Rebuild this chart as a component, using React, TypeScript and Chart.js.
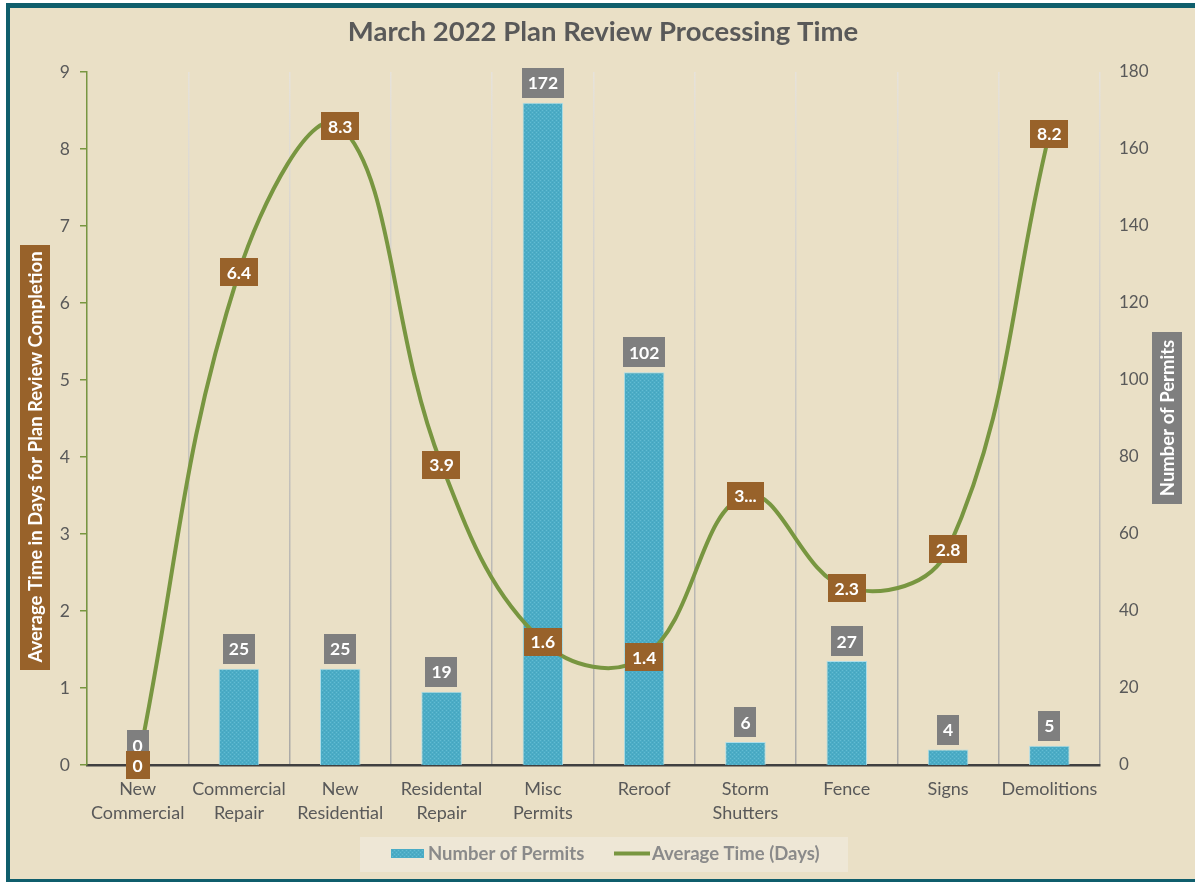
import React, { useEffect, useRef } from 'react';
import { Chart, registerables } from 'chart.js';

Chart.register(...registerables);

const chartTitle = 'March 2022 Plan Review Processing Time';
const leftAxisTitle = 'Average Time in Days for Plan Review Completion';
const rightAxisTitle = 'Number of Permits';
const categories: (string | string[])[] = [
  ['New', 'Commercial'],
  ['Commercial', 'Repair'],
  ['New', 'Residential'],
  ['Residental', 'Repair'],
  ['Misc', 'Permits'],
  'Reroof',
  ['Storm', 'Shutters'],
  'Fence',
  'Signs',
  'Demolitions',
];
const permitCounts = [0, 25, 25, 19, 172, 102, 6, 27, 4, 5];
const avgDays = [0, 6.4, 8.3, 3.9, 1.6, 1.4, 3.5, 2.3, 2.8, 8.2];
const avgDayLabels = ['0', '6.4', '8.3', '3.9', '1.6', '1.4', '3...', '2.3', '2.8', '8.2'];
const leftAxisMax = 9;
const leftAxisStep = 1;
const rightAxisMax = 180;
const rightAxisStep = 20;
const barLegend = 'Number of Permits';
const lineLegend = 'Average Time (Days)';

const FONT = 'Lato, "Open Sans", "DejaVu Sans", sans-serif';
const TEXT = '#595959';
const LINE_GREEN = '#789640';
const BROWN = '#98622A';
const GREY_BOX = '#7F7F7F';

function makeBarPattern(ctx: CanvasRenderingContext2D): CanvasPattern | string {
  const pc = document.createElement('canvas');
  pc.width = 4;
  pc.height = 4;
  const p = pc.getContext('2d');
  if (!p) return '#4BACC6';
  p.fillStyle = '#4BACC6';
  p.fillRect(0, 0, 4, 4);
  p.fillStyle = '#63BCD2';
  p.fillRect(0, 0, 1, 1);
  p.fillRect(2, 2, 1, 1);
  p.fillStyle = '#45A4BD';
  p.fillRect(2, 0, 1, 1);
  p.fillRect(0, 2, 1, 1);
  return ctx.createPattern(pc, 'repeat') || '#4BACC6';
}

function box(ctx: CanvasRenderingContext2D, cx: number, cy: number, w: number, h: number, fill: string) {
  ctx.fillStyle = fill;
  ctx.fillRect(Math.round(cx - w / 2), Math.round(cy - h / 2), Math.round(w), Math.round(h));
}

export default function App() {
  const ref = useRef<HTMLCanvasElement | null>(null);

  useEffect(() => {
    const canvas = ref.current;
    if (!canvas) return;
    const ctx0 = canvas.getContext('2d') as CanvasRenderingContext2D;
    const pattern = makeBarPattern(ctx0);

    const gridColor = (c: any) => {
      const chart = c.chart;
      const a = chart.chartArea;
      if (!a) return '#c8c4bb';
      const g = chart.ctx.createLinearGradient(0, a.top, 0, a.bottom);
      g.addColorStop(0, '#e6e2da');
      g.addColorStop(1, '#aaa9a6');
      return g;
    };

    const decor = {
      id: 'decor',
      afterDatasetsDraw(chart: any) {
        const ctx = chart.ctx as CanvasRenderingContext2D;
        ctx.save();
        ctx.textAlign = 'center';
        ctx.textBaseline = 'middle';
        ctx.font = `bold 17.5px ${FONT}`;
        const barMeta = chart.getDatasetMeta(0);
        barMeta.data.forEach((el: any, i: number) => {
          const { x, y } = el.getProps(['x', 'y'], true);
          const txt = String(permitCounts[i]);
          const w = ctx.measureText(txt).width + 12;
          const cy = y - 20;
          box(ctx, x, cy, w, 30, GREY_BOX);
          ctx.fillStyle = '#ffffff';
          ctx.fillText(txt, x, cy + 1);
        });
        const lineMeta = chart.getDatasetMeta(1);
        lineMeta.data.forEach((el: any, i: number) => {
          const { x, y } = el.getProps(['x', 'y'], true);
          const txt = avgDayLabels[i];
          const w = ctx.measureText(txt).width + 14;
          box(ctx, x, y, w, 28, BROWN);
          ctx.fillStyle = '#ffffff';
          ctx.fillText(txt, x, y + 1);
        });
        ctx.restore();
      },
      afterDraw(chart: any) {
        const ctx = chart.ctx as CanvasRenderingContext2D;
        ctx.save();
        ctx.textAlign = 'center';
        ctx.textBaseline = 'middle';
        ctx.font = `bold 27.5px ${FONT}`;
        ctx.fillStyle = TEXT;
        ctx.fillText(chartTitle, 603, 32);

        ctx.save();
        ctx.translate(35, 457);
        ctx.rotate(-Math.PI / 2);
        ctx.font = `bold 18.5px ${FONT}`;
        let w = ctx.measureText(leftAxisTitle).width + 14;
        box(ctx, 0, 0, w, 30, BROWN);
        ctx.fillStyle = '#ffffff';
        ctx.fillText(leftAxisTitle, 0, 1);
        ctx.restore();

        ctx.save();
        ctx.translate(1167, 418);
        ctx.rotate(-Math.PI / 2);
        ctx.font = `bold 18.5px ${FONT}`;
        w = ctx.measureText(rightAxisTitle).width + 16;
        box(ctx, 0, 0, w, 30, GREY_BOX);
        ctx.fillStyle = '#ffffff';
        ctx.fillText(rightAxisTitle, 0, 1);
        ctx.restore();

        ctx.fillStyle = '#EEE7D6';
        ctx.fillRect(360, 837, 488, 35);
        ctx.fillStyle = pattern as any;
        ctx.fillRect(391, 849, 33, 9);
        ctx.textAlign = 'left';
        ctx.font = `bold 18.5px ${FONT}`;
        ctx.fillStyle = '#8A8A8A';
        ctx.fillText(barLegend, 428, 854);
        ctx.strokeStyle = LINE_GREEN;
        ctx.lineWidth = 4;
        ctx.beginPath();
        ctx.moveTo(614, 853.5);
        ctx.lineTo(650, 853.5);
        ctx.stroke();
        ctx.fillText(lineLegend, 652, 854);
        ctx.restore();
      },
    };

    const chart = new Chart(canvas, {
      type: 'bar',
      data: {
        labels: categories,
        datasets: [
          {
            type: 'bar',
            label: barLegend,
            data: permitCounts,
            yAxisID: 'y1',
            backgroundColor: pattern as any,
            borderColor: 'rgba(170,222,235,0.9)',
            borderWidth: 1,
            barPercentage: 0.4,
            categoryPercentage: 1,
            order: 2,
          },
          {
            type: 'line',
            label: lineLegend,
            data: avgDays,
            yAxisID: 'y',
            borderColor: LINE_GREEN,
            backgroundColor: LINE_GREEN,
            borderWidth: 4,
            tension: 0.4,
            pointRadius: 0,
            fill: false,
            order: 1,
          } as any,
        ],
      },
      options: {
        responsive: false,
        animation: false,
        devicePixelRatio: 1,
        layout: { padding: { top: 72, left: 0, right: 0, bottom: 0 } },
        plugins: {
          legend: { display: false },
          title: { display: false },
          tooltip: { enabled: false },
        },
        scales: {
          x: {
            offset: true,
            grid: {
              offset: true,
              drawOnChartArea: true,
              drawTicks: false,
              color: gridColor as any,
              lineWidth: 1.5,
            },
            border: { display: true, color: '#404040', width: 2.5 },
            ticks: {
              color: TEXT,
              font: { family: FONT, size: 18, lineHeight: 1.33 },
              padding: 12,
              maxRotation: 0,
              autoSkip: false,
            },
            afterFit: (s: any) => {
              s.height = 117;
            },
          },
          y: {
            position: 'left',
            min: 0,
            max: leftAxisMax,
            ticks: {
              stepSize: leftAxisStep,
              color: TEXT,
              font: { family: FONT, size: 17.5 },
              padding: 10,
            },
            grid: {
              drawOnChartArea: false,
              drawTicks: true,
              tickLength: 7,
              color: LINE_GREEN,
              lineWidth: 1.5,
            },
            border: { display: true, color: LINE_GREEN, width: 1.5 },
            afterFit: (s: any) => {
              s.width = 87;
            },
          },
          y1: {
            position: 'right',
            min: 0,
            max: rightAxisMax,
            ticks: {
              stepSize: rightAxisStep,
              color: TEXT,
              font: { family: FONT, size: 17 },
              padding: 19,
            },
            grid: { display: false, drawTicks: false, tickLength: 0 },
            border: { display: false },
            afterFit: (s: any) => {
              s.width = 95;
            },
          },
        },
      },
      plugins: [decor],
    });

    return () => {
      chart.destroy();
    };
  }, []);

  return (
    <div
      style={{
        position: 'fixed',
        left: 0,
        top: 0,
        width: 1195,
        height: 882,
        background: '#ffffff',
        overflow: 'hidden',
      }}
    >
      <div
        style={{
          position: 'absolute',
          left: 6,
          top: 3,
          width: 1200,
          height: 880,
          boxSizing: 'border-box',
          borderStyle: 'solid',
          borderColor: '#0F5E6C',
          borderWidth: '5px 0 4px 4px',
          background: '#EAE0C6',
        }}
      />
      <canvas
        ref={ref}
        width={1195}
        height={882}
        style={{ position: 'absolute', left: 0, top: 0, width: 1195, height: 882 }}
      />
    </div>
  );
}
